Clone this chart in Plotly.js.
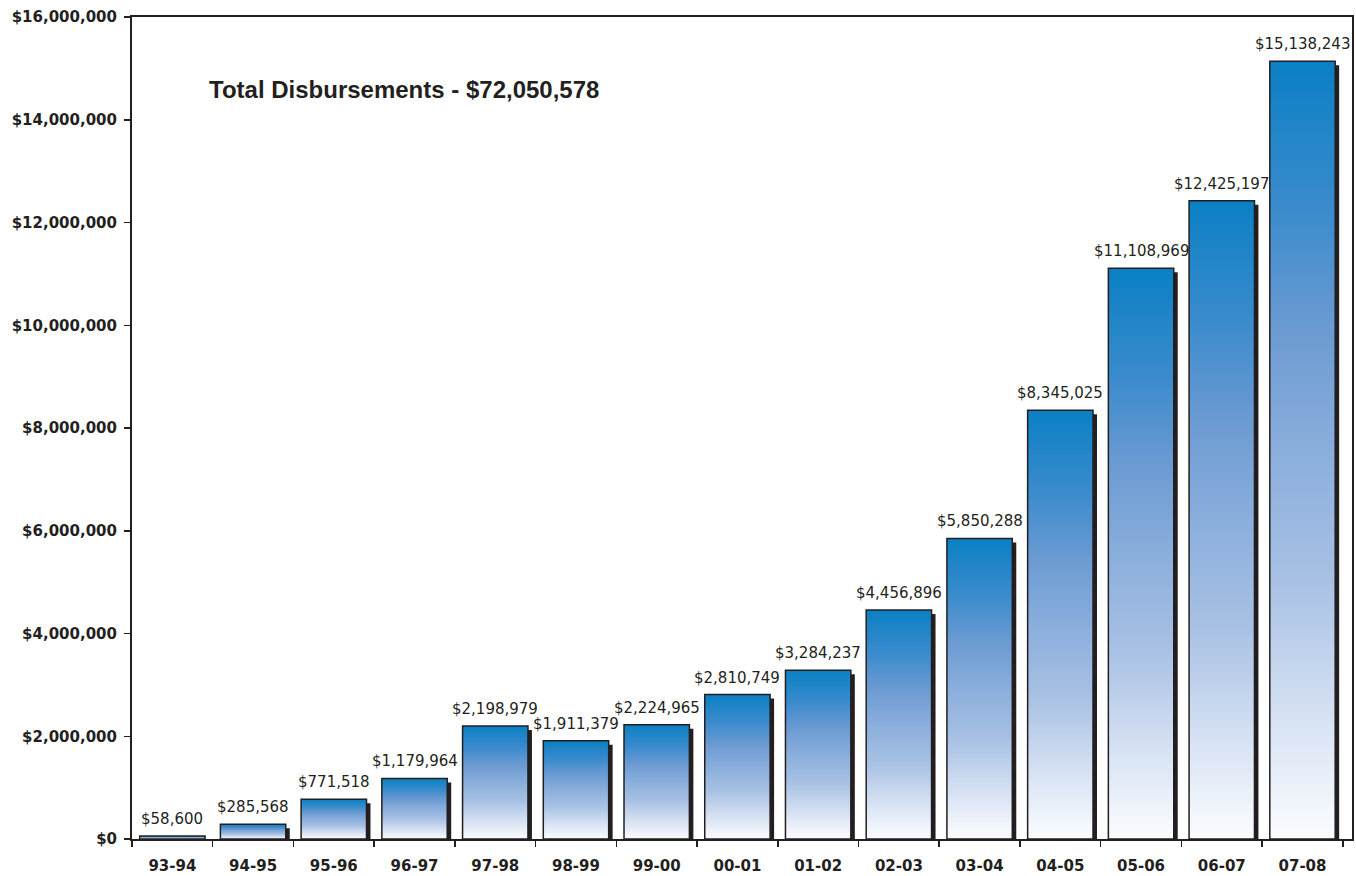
<!DOCTYPE html>
<html>
<head>
<meta charset="utf-8">
<script src="https://cdn.plot.ly/plotly-3.0.1.min.js"></script>
<style>
  html, body { margin: 0; padding: 0; background: #ffffff; }
  #chart { width: 1356px; height: 876px; }
</style>
</head>
<body>
<div id="chart"></div>
<script>
// ---- data ----
const categories = ['93-94', '94-95', '95-96', '96-97', '97-98', '98-99', '99-00', '00-01',
                    '01-02', '02-03', '03-04', '04-05', '05-06', '06-07', '07-08'];
const disbursements = [58600, 285568, 771518, 1179964, 2198979, 1911379, 2224965, 2810749,
                       3284237, 4456896, 5850288, 8345025, 11108969, 12425197, 15138243];
const totalTitle = 'Total Disbursements - $72,050,578';
const yTickVals = [0, 2000000, 4000000, 6000000, 8000000, 10000000, 12000000, 14000000, 16000000];

// ---- styles ----
const INK = '#231f20';
const W = 1356, H = 876;
const M = { l: 132, r: 4, t: 17, b: 37 };
const Y_MAX = 16000000;
const plotH = H - M.t - M.b;
const plotW = W - M.l - M.r;
const SHADOW_DX = 4, SHADOW_DY = 4;              // pixels
const BAR_W = 0.81;                               // category units
const dy = SHADOW_DY * Y_MAX / plotH;             // shadow drop in data units
const dx = SHADOW_DX * categories.length / plotW; // shadow shift in category units
const SENTINEL = '#0a80c4';

const fmt = v => '$' + v.toLocaleString('en-US');

const shadow = {
  type: 'bar', x: categories, y: disbursements, xaxis: 'x', yaxis: 'y',
  width: BAR_W, offset: -BAR_W / 2 + dx,
  marker: { color: INK, line: { width: 0 } },
  hoverinfo: 'skip', showlegend: false
};
const main = {
  type: 'bar', x: categories, y: disbursements, xaxis: 'x', yaxis: 'y2',
  width: BAR_W, offset: -BAR_W / 2,
  marker: { color: SENTINEL, line: { color: INK, width: 1.5 } },
  showlegend: false
};

const annotations = categories.map((c, i) => ({
  x: c, y: disbursements[i], xref: 'x', yref: 'y2',
  text: fmt(disbursements[i]), showarrow: false,
  xanchor: 'center', yanchor: 'bottom', yshift: 6,
  font: { family: 'DejaVu Sans, sans-serif', size: 15, color: INK }
}));
annotations.push({
  x: (207 - M.l) / plotW, y: 0.9116, xref: 'paper', yref: 'paper',
  xanchor: 'left', yanchor: 'middle', showarrow: false,
  text: totalTitle,
  font: { family: '"Liberation Sans", Arial, sans-serif', size: 24, weight: 'bold', color: INK }
});

const layout = {
  width: W, height: H,
  margin: M,
  paper_bgcolor: '#ffffff', plot_bgcolor: '#ffffff',
  barmode: 'overlay',
  showlegend: false,
  xaxis: {
    type: 'category', tickson: 'boundaries', ticks: 'outside', ticklen: 6,
    tickwidth: 1.5, tickcolor: INK,
    showline: true, linecolor: INK, linewidth: 2, mirror: true,
    showgrid: false, zeroline: false,
    ticklabelstandoff: 12,
    tickfont: { family: 'DejaVu Sans, sans-serif', size: 15, weight: 'bold', color: INK }
  },
  yaxis: {
    range: [dy, Y_MAX + dy], visible: false, showgrid: false, zeroline: false, fixedrange: true
  },
  yaxis2: {
    overlaying: 'y', side: 'left', range: [0, Y_MAX],
    tickvals: yTickVals, ticktext: yTickVals.map(fmt),
    ticks: 'outside', ticklen: 6, tickwidth: 1.5, tickcolor: INK,
    showline: true, linecolor: INK, linewidth: 2, mirror: true,
    showgrid: false, zeroline: false,
    ticklabelstandoff: 4,
    tickfont: { family: 'DejaVu Sans, sans-serif', size: 15, weight: 'bold', color: INK }
  },
  annotations: annotations
};

function applyGradient(gd) {
  const svg = gd.querySelector('svg.main-svg');
  if (!svg) return;
  let defs = svg.querySelector('defs');
  const NS = 'http://www.w3.org/2000/svg';
  if (!defs) { defs = document.createElementNS(NS, 'defs'); svg.insertBefore(defs, svg.firstChild); }
  if (!svg.querySelector('#barGrad')) {
    const g = document.createElementNS(NS, 'linearGradient');
    g.setAttribute('id', 'barGrad');
    g.setAttribute('x1', '0'); g.setAttribute('y1', '0');
    g.setAttribute('x2', '0'); g.setAttribute('y2', '1');
    const stops = [
      [0, '#0a80c4'], [0.2, '#3d8ccd'], [0.34, '#6a9ad2'], [0.5, '#8aaedc'],
      [0.67, '#a8c1e4'], [0.82, '#d0ddf1'], [0.95, '#f0f4fb'], [1, '#fbfcfe']
    ];
    stops.forEach(([o, c]) => {
      const s = document.createElementNS(NS, 'stop');
      s.setAttribute('offset', o);
      s.setAttribute('stop-color', c);
      g.appendChild(s);
    });
    defs.appendChild(g);
  }
  gd.querySelectorAll('.barlayer .point path').forEach(p => {
    const f = p.style.fill;
    if (f === 'rgb(10, 128, 196)') p.style.fill = 'url(#barGrad)';
  });
}

const gd = document.getElementById('chart');
Plotly.newPlot(gd, [shadow, main], layout, { staticPlot: true }).then(() => {
  applyGradient(gd);
  gd.on && gd.on('plotly_afterplot', () => applyGradient(gd));
});
</script>
</body>
</html>
